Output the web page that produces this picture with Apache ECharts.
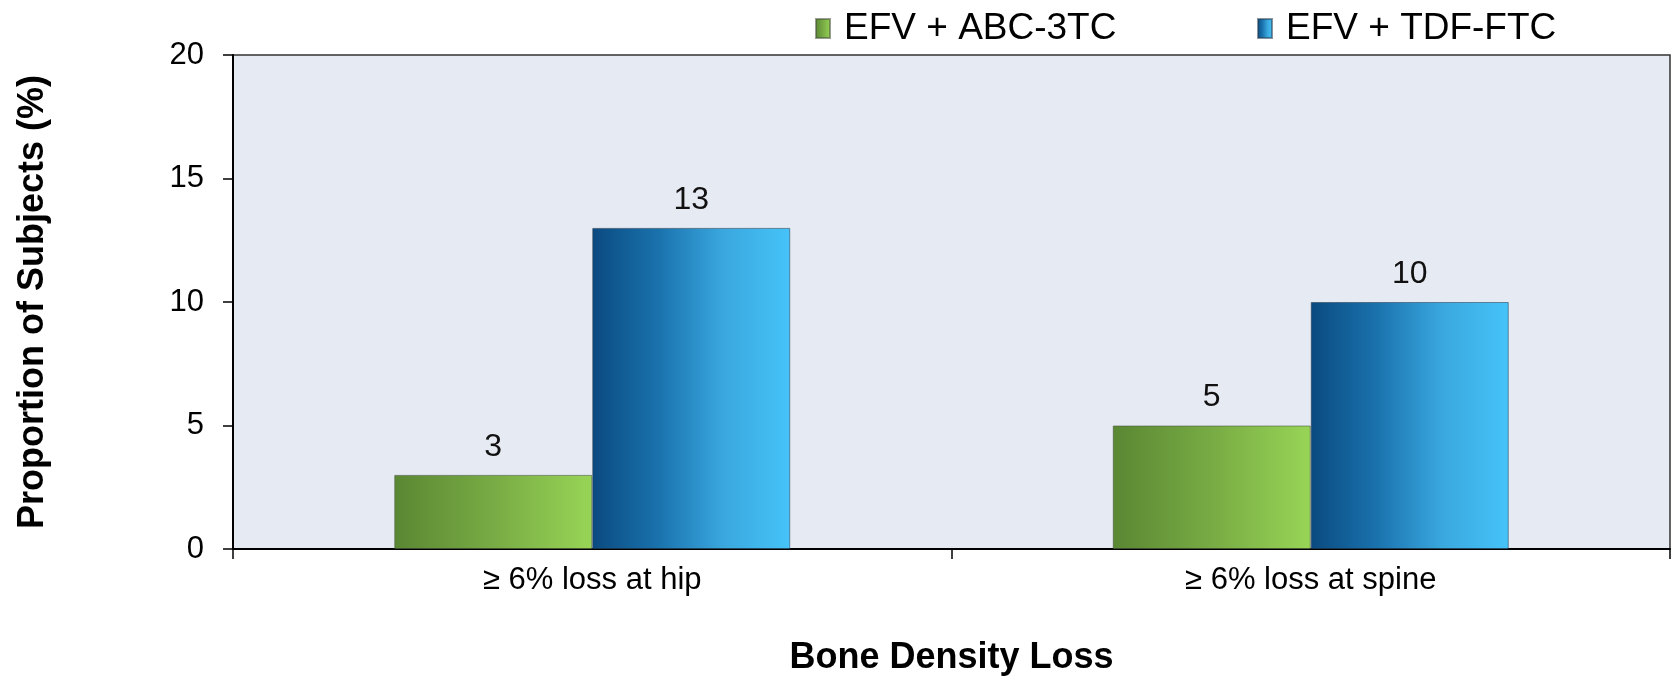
<!DOCTYPE html>
<html>
<head>
<meta charset="utf-8">
<title>Bone Density Loss</title>
<script src="https://cdn.jsdelivr.net/npm/echarts@6/dist/echarts.min.js"></script>
<style>
  html, body { margin: 0; padding: 0; background: #fff; }
  #chart { width: 1675px; height: 677px; }
</style>
</head>
<body>
<div id="chart"></div>
<script>
const categories = ["≥ 6% loss at hip", "≥ 6% loss at spine"];
const abcValues = [3, 5];
const tdfValues = [13, 10];
const seriesNames = ["EFV + ABC-3TC", "EFV + TDF-FTC"];

const font = "Liberation Sans, Arial, sans-serif";

// 左深右浅的横向渐变
function barGradient(stops) {
  return new echarts.graphic.LinearGradient(0, 0, 1, 0, stops.map((c, i) => ({
    offset: i / (stops.length - 1),
    color: c,
  })));
}
const greenFill = barGradient(["#5a8733", "#78ab44", "#98d556"]);
const blueFill = barGradient(["#0a4a80", "#1a72ad", "#3aa8df", "#45c3f8"]);

const chart = echarts.init(document.getElementById("chart"));
const option = {
  animation: false,
  textStyle: { fontFamily: font },
  legend: [
    {
      left: 810,
      top: 5,
      data: [seriesNames[0]],
      icon: "rect",
      itemWidth: 14,
      itemHeight: 19,
      textStyle: { fontSize: 37, color: "#000", fontFamily: font, padding: [0, 0, 0, 9] },
    },
    {
      left: 1252,
      top: 5,
      data: [seriesNames[1]],
      icon: "rect",
      itemWidth: 14,
      itemHeight: 19,
      textStyle: { fontSize: 37, color: "#000", fontFamily: font, padding: [0, 0, 0, 9] },
    },
  ],
  grid: {
    left: 233,
    right: 5,
    top: 55,
    bottom: 128,
    outerBoundsMode: "none", // 不让名称挤压绘图区
    show: true,
    backgroundColor: "#e6eaf2",
    borderColor: "#333",
    borderWidth: 1.5,
  },
  xAxis: {
    type: "category",
    data: categories,
    name: "Bone Density Loss",
    nameLocation: "middle",
    nameGap: 91,
    nameTextStyle: { fontSize: 36, fontWeight: "bold", color: "#000", fontFamily: font },
    axisLine: { lineStyle: { color: "#000", width: 2 } },
    axisTick: { show: true, length: 10, lineStyle: { color: "#000", width: 1.5 } },
    axisLabel: { fontSize: 31, color: "#000", margin: 16, fontFamily: font },
  },
  yAxis: {
    type: "value",
    min: 0,
    max: 20,
    interval: 5,
    name: "Proportion of Subjects (%)",
    nameLocation: "middle",
    nameGap: 182,
    nameTextStyle: { fontSize: 36, fontWeight: "bold", color: "#000", fontFamily: font },
    axisLine: { show: true, lineStyle: { color: "#000", width: 2 } },
    axisTick: { show: true, length: 10, lineStyle: { color: "#000", width: 1.5 } },
    axisLabel: { fontSize: 31, color: "#000", margin: 29, fontFamily: font },
    splitLine: { show: false },
  },
  series: [
    {
      name: seriesNames[0],
      type: "bar",
      data: abcValues,
      barWidth: 198,
      barGap: "0%",
      itemStyle: { color: greenFill, borderColor: "rgba(70,80,60,0.55)", borderWidth: 1 },
      label: { show: true, position: "top", distance: 12, fontSize: 32, color: "#111", fontFamily: font },
    },
    {
      name: seriesNames[1],
      type: "bar",
      data: tdfValues,
      barWidth: 198,
      barGap: "0%",
      itemStyle: { color: blueFill, borderColor: "rgba(40,60,80,0.55)", borderWidth: 1 },
      label: { show: true, position: "top", distance: 12, fontSize: 32, color: "#111", fontFamily: font },
    },
  ],
};
chart.setOption(option);
</script>
</body>
</html>
